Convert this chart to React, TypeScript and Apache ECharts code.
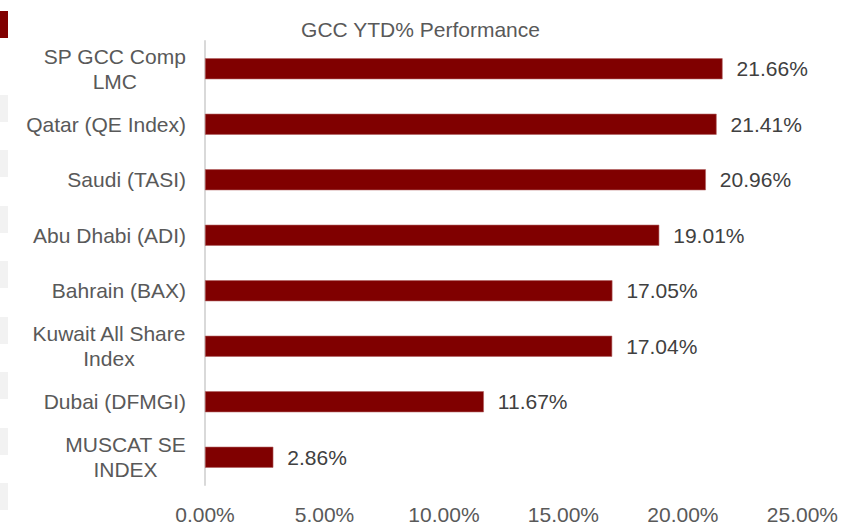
import React, { useEffect, useRef } from "react";
import * as echarts from "echarts";

const categories = [
  "SP GCC Comp\nLMC",
  "Qatar (QE Index)",
  "Saudi (TASI)",
  "Abu Dhabi (ADI)",
  "Bahrain (BAX)",
  "Kuwait All Share\nIndex",
  "Dubai (DFMGI)",
  "MUSCAT SE\nINDEX",
];
const ytdValues = [21.66, 21.41, 20.96, 19.01, 17.05, 17.04, 11.67, 2.86];
const titleText = "GCC YTD% Performance";
const axisMax = 25;
const axisStep = 5;

const FONT = "Liberation Sans";
const FS = 21;

export default function App() {
  const ref = useRef<HTMLDivElement>(null);
  useEffect(() => {
    document.body.style.margin = "0";
    if (!ref.current) return;
    const chart = echarts.init(ref.current, undefined, { renderer: "svg" });
    const leftMarks = [95, 150, 206, 261, 317, 372, 428, 483];
    chart.setOption({
      animation: false,
      backgroundColor: "#ffffff",
      title: {
        text: titleText,
        left: "center",
        top: 14,
        textStyle: { fontFamily: FONT, fontSize: FS, fontWeight: "normal", color: "#595959" },
      },
      grid: { left: 205, right: 36, top: 41, bottom: 33, containLabel: false },
      xAxis: {
        type: "value",
        min: 0,
        max: axisMax,
        interval: axisStep,
        axisLine: { show: false },
        axisTick: { show: false },
        splitLine: { show: false },
        axisLabel: {
          margin: 19,
          fontFamily: FONT,
          fontSize: FS,
          color: "#595959",
          formatter: (v: number) => v.toFixed(2) + "%",
        },
      },
      yAxis: {
        type: "category",
        data: categories,
        inverse: true,
        axisLine: { show: true, lineStyle: { color: "#d9d9d9", width: 2 } },
        axisTick: { show: false },
        axisLabel: {
          margin: 19,
          fontFamily: FONT,
          fontSize: FS,
          color: "#595959",
          formatter: (v: string) => v.split("\n").map((l) => `{c|${l}}`).join("\n"),
          rich: {
            c: { align: "center", fontFamily: FONT, fontSize: FS, color: "#595959", lineHeight: 25 },
          },
        },
      },
      series: [
        {
          type: "bar",
          data: ytdValues,
          barWidth: 21,
          itemStyle: { color: "#800000", borderColor: "#b06060", borderWidth: 0.6 },
          label: {
            show: true,
            position: "right",
            distance: 14,
            fontFamily: FONT,
            fontSize: FS,
            color: "#404040",
            formatter: (p: any) => p.value.toFixed(2) + "%",
          },
        },
      ],
      graphic: [
        { type: "rect", left: 0, top: 11, shape: { width: 8, height: 27 }, style: { fill: "#800000" } },
        ...leftMarks.map((y) => ({
          type: "rect",
          left: 0,
          top: y,
          shape: { width: 8, height: 27 },
          style: { fill: "#f2f2f2" },
        })),
      ],
    });
    return () => chart.dispose();
  }, []);
  return <div ref={ref} style={{ width: 841, height: 525 }} />;
}
